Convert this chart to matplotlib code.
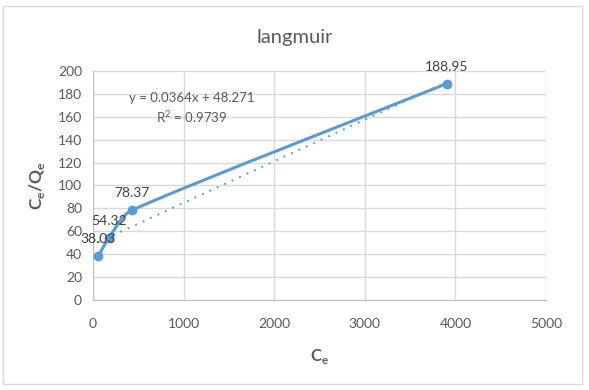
import matplotlib
matplotlib.use('Agg')
import matplotlib.pyplot as plt
import numpy as np
from matplotlib.path import Path
from matplotlib.patches import PathPatch, Rectangle

# data
ce = [55, 177, 430, 3905]
ce_qe = [38.03, 54.32, 78.37, 188.95]
point_labels = ["38.03", "54.32", "78.37", "188.95"]
x_ticks = [0, 1000, 2000, 3000, 4000, 5000]
y_ticks = [0, 20, 40, 60, 80, 100, 120, 140, 160, 180, 200]
eq_text = "y = 0.0364x + 48.271\nR$^2$ = 0.9739"

blue = '#5B9BD5'
grey_txt = '#595959'

plt.rcParams['font.family'] = ['Lato', 'DejaVu Sans']
plt.rcParams['mathtext.fontset'] = 'custom'
plt.rcParams['mathtext.rm'] = 'Lato'
plt.rcParams['mathtext.bf'] = 'Lato:bold'

fig = plt.figure(figsize=(5.89, 3.90), dpi=100)
ax = fig.add_axes([0.158, 0.231, 0.769, 0.587])

# outer chart border
fig.patches.append(Rectangle((0.005, 0.015), 0.983, 0.969, transform=fig.transFigure,
                             fill=False, edgecolor='#d9d9d9', lw=1))

# excel-like smoothed line, control points worked out in screen-ish units
sx, sy = 453 / 5000, 229 / 200
P = np.column_stack([np.array(ce, float) * sx, np.array(ce_qe, float) * sy])
n = len(P)
verts = [tuple(P[0])]
codes = [Path.MOVETO]
def tangent(i):
    a = P[max(i - 1, 0)]
    c = P[min(i + 1, n - 1)]
    return (c - a) / 6
def clamp(v, lim):
    L = np.hypot(*v)
    return v if L <= lim or L == 0 else v * lim / L
for i in range(n - 1):
    seg = np.hypot(*(P[i+1] - P[i]))
    c1 = P[i] + clamp(tangent(i), seg / 3)
    c2 = P[i+1] - clamp(tangent(i + 1), seg / 3)
    verts += [tuple(c1), tuple(c2), tuple(P[i+1])]
    codes += [Path.CURVE4] * 3
verts = [(vx / sx, vy / sy) for vx, vy in verts]
ax.add_patch(PathPatch(Path(verts, codes), fill=False, edgecolor=blue, lw=2.2,
                       capstyle='round', zorder=3))
ax.plot(ce, ce_qe, 'o', color=blue, ms=6, zorder=4)

# linear trendline
x = np.array(ce, float); y = np.array(ce_qe, float)
k, b = np.polyfit(x, y, 1)
tx = np.array([x.min(), x.max()])
ax.plot(tx, k * tx + b, linestyle=(0, (1, 3.2)), color=blue, lw=1.4, zorder=2)

for xi, yi, lab in zip(ce, ce_qe, point_labels):
    ax.annotate(lab, (xi, yi), xytext=(0, 8), textcoords='offset points',
                ha='center', va='bottom', fontsize=10, color='#404040', zorder=5)

ax.text(1093, 167, eq_text, ha='center', va='center', fontsize=9.5,
        color=grey_txt, linespacing=1.35)

ax.set_xlim(0, 5000)
ax.set_ylim(0, 200)
ax.set_xticks(x_ticks)
ax.set_yticks(y_ticks)
ax.grid(True, color='#d9d9d9', lw=1)
ax.set_axisbelow(True)
for s in ['top', 'right']:
    ax.spines[s].set_visible(False)
for s in ['left', 'bottom']:
    ax.spines[s].set_color('#bfbfbf')
ax.tick_params(length=0, labelsize=10, labelcolor=grey_txt, pad=8)
ax.tick_params(axis='x', pad=13)

ax.set_xlabel(r"C$_\mathbf{e}$", fontsize=12, fontweight='bold', color=grey_txt, labelpad=12)
ax.set_ylabel(r"C$_\mathbf{e}$/Q$_\mathbf{e}$", fontsize=12.5, fontweight='bold', color=grey_txt, labelpad=8)
fig.text(0.5, 0.905, "langmuir", ha='center', va='center', fontsize=14.5, color=grey_txt)

fig.savefig('out.png', dpi=100)
